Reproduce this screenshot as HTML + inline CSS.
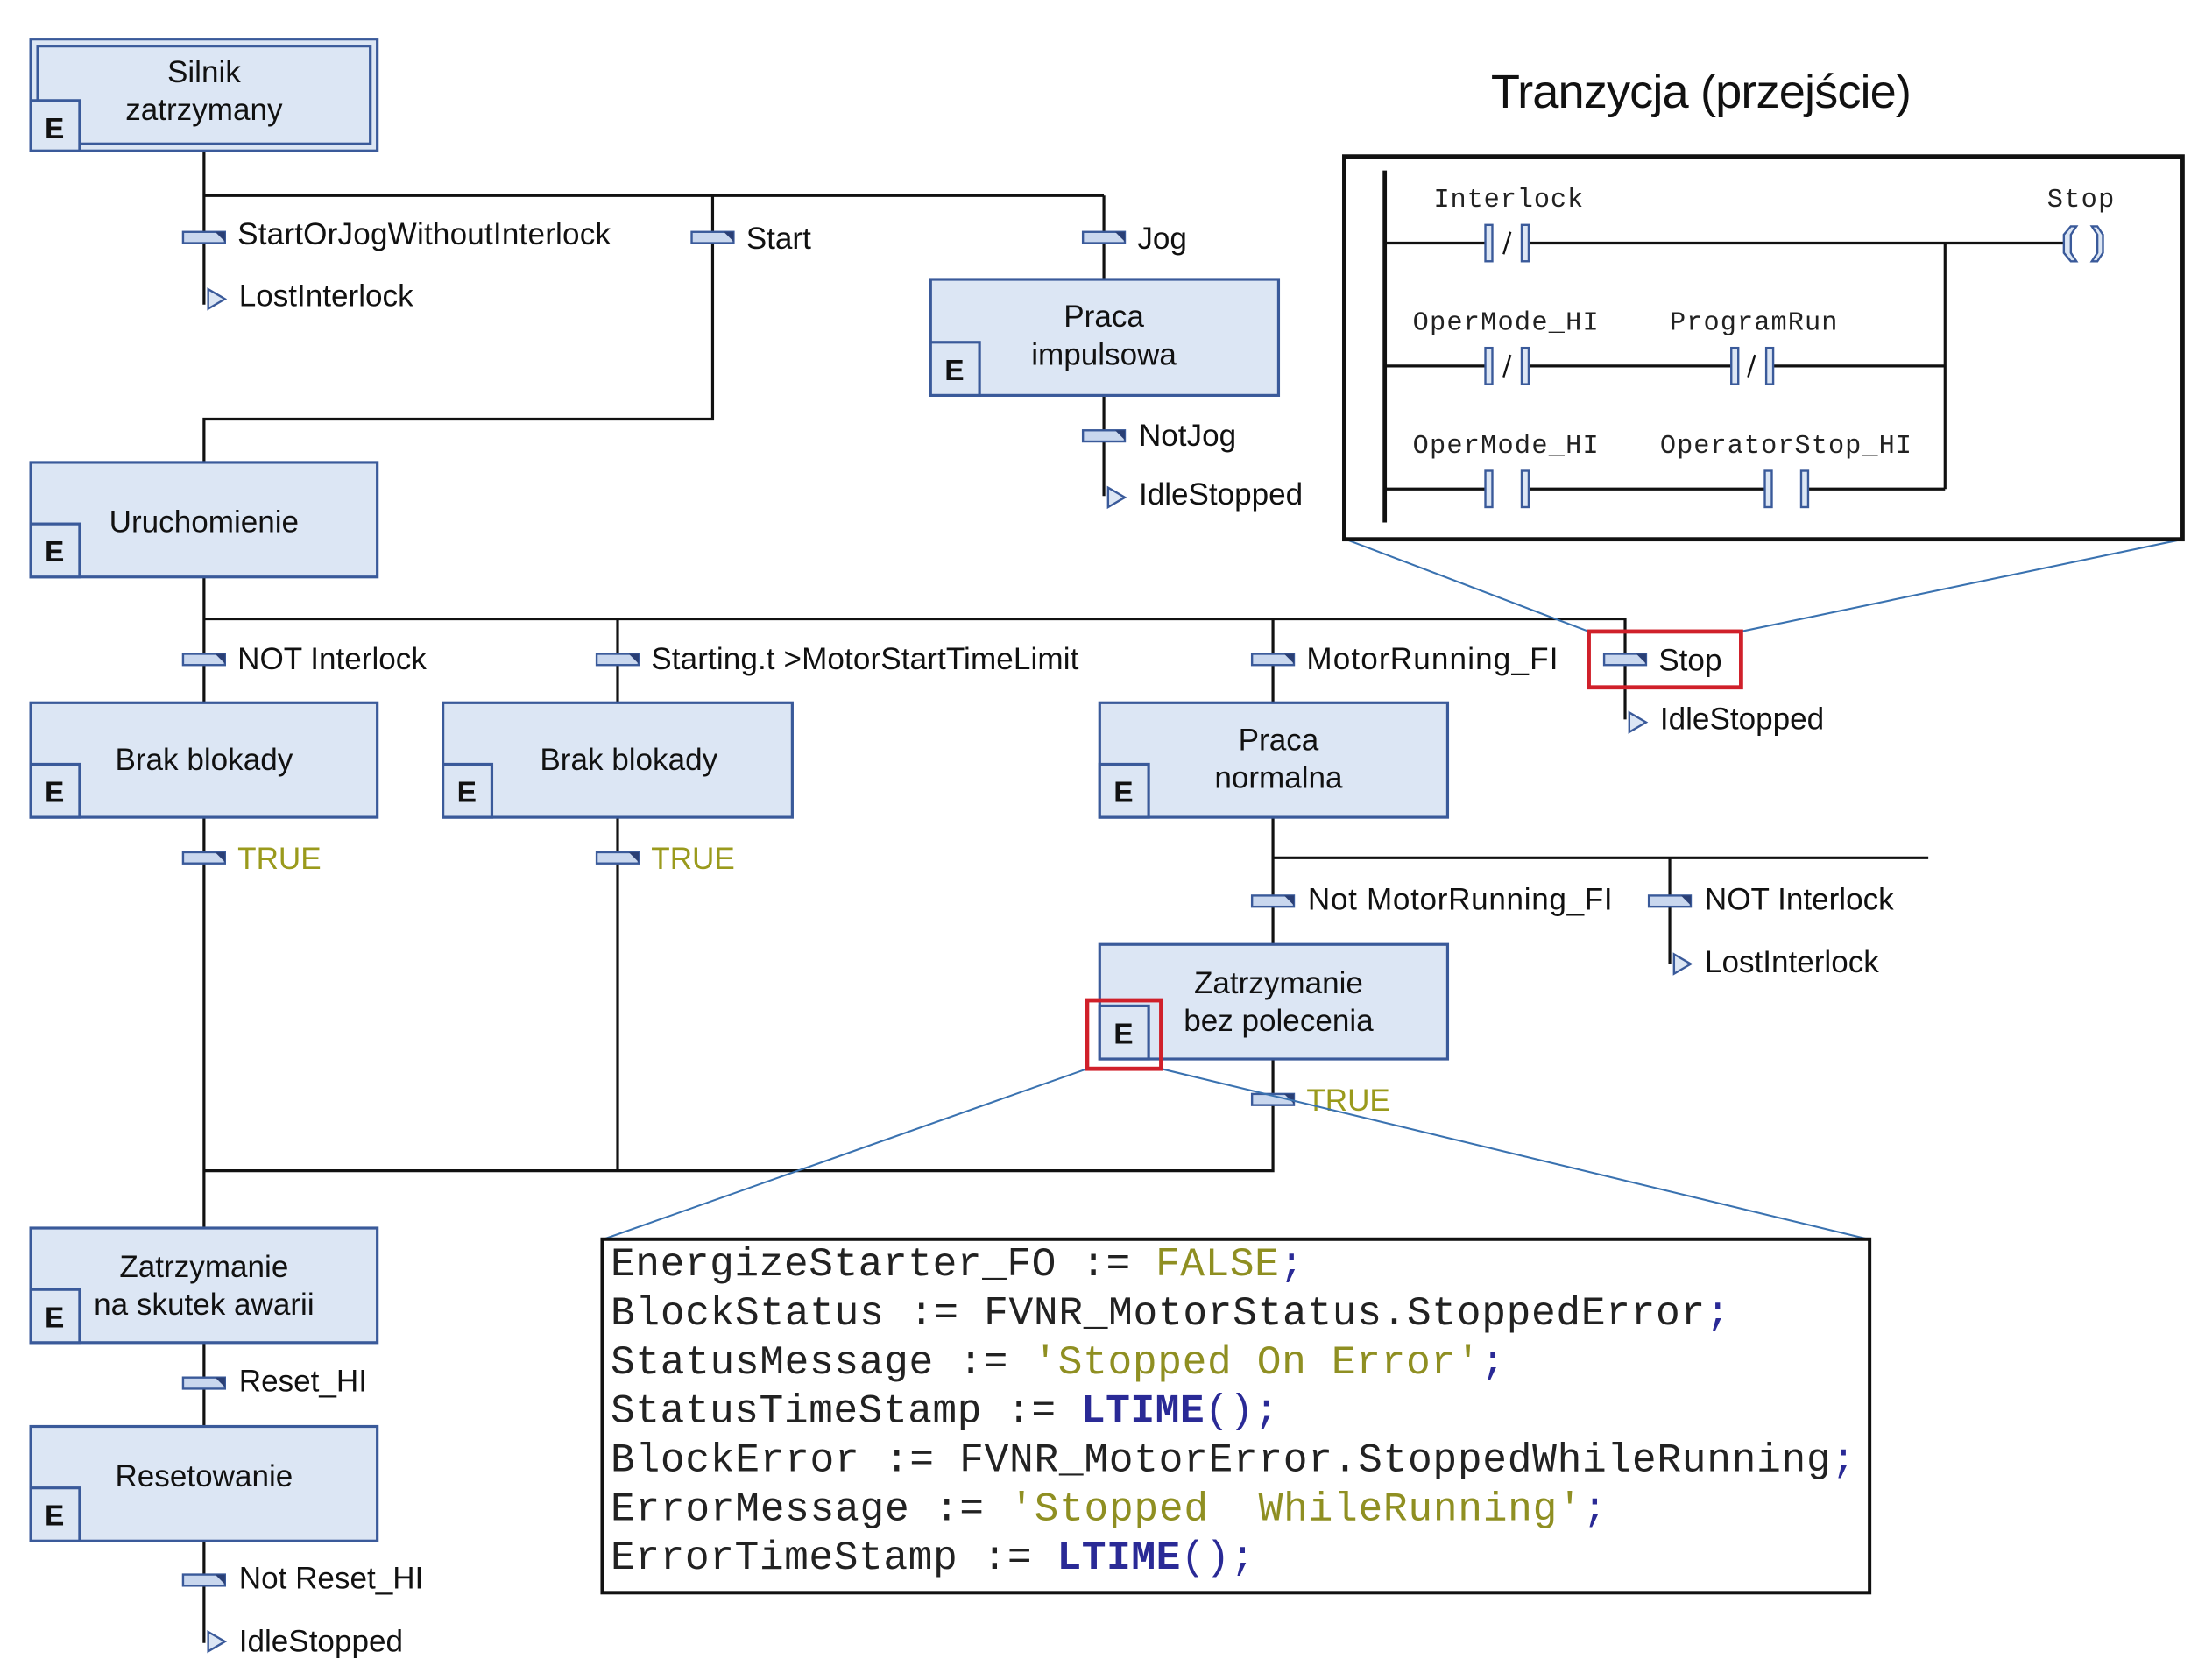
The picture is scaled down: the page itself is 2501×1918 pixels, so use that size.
<!DOCTYPE html>
<html><head><meta charset="utf-8"><style>
html,body{margin:0;padding:0;background:#fff;}
svg{display:block;}
.l{font-family:"Liberation Sans",sans-serif;font-size:22px;fill:#111;}
.b{font-family:"Liberation Sans",sans-serif;font-size:22px;fill:#111;text-anchor:middle;}
.e{font-family:"Liberation Sans",sans-serif;font-size:21px;font-weight:bold;fill:#111;text-anchor:middle;}
.t{font-family:"Liberation Sans",sans-serif;font-size:22px;fill:#9a9a1c;}
.m{font-family:"Liberation Mono",monospace;font-size:19px;fill:#222;}
.c{font-family:"Liberation Mono",monospace;font-size:29px;fill:#222;white-space:pre;}
.o{fill:#8f8f22;} .k{fill:#2a2a96;font-weight:bold;} .p{fill:#2a2a96;}
</style></head><body>
<svg width="2501" height="1918" viewBox="0 0 1568 1202.5" preserveAspectRatio="none" xmlns="http://www.w3.org/2000/svg">
<defs>
<g id="tr"><rect x="-15" y="-4" width="30" height="8" fill="#c9d7ee" stroke="#3a5a9a" stroke-width="1.5"/><path d="M8,-4 L15,-4 L15,3 Z" fill="#2a3f75"/></g>
<g id="jp"><path d="M0,-7 L12,0 L0,7 Z" fill="#dce6f4" stroke="#3a5a9a" stroke-width="1.5"/></g>
</defs>
<g stroke="#111" stroke-width="2" fill="none">
<path d="M146,108 V218 M146,140 H790 M510,140 V300 H146 V331 M790,140 V200 M790,283 V355"/>
<path d="M146,413 V503 M146,443 H1163 V515 M442,443 V503 M911,443 V503"/>
<path d="M146,585 V879 M442,585 V838 M911,585 V676 M911,614 H1380 M1195,614 V690 M911,758 V838 H146"/>
<path d="M146,961 V1021 M146,1103 V1176"/>
</g>
<g fill="#dce6f4" stroke="#3a5a9a" stroke-width="2">
<rect x="22" y="28" width="248" height="80"/><rect x="27" y="33" width="238" height="70" fill="none"/>
<rect x="666" y="200" width="249" height="83"/>
<rect x="22" y="331" width="248" height="82"/>
<rect x="22" y="503" width="248" height="82"/>
<rect x="317" y="503" width="250" height="82"/>
<rect x="787" y="503" width="249" height="82"/>
<rect x="787" y="676" width="249" height="82"/>
<rect x="22" y="879" width="248" height="82"/>
<rect x="22" y="1021" width="248" height="82"/>
<rect x="22" y="72" width="35" height="36"/>
<rect x="666" y="245" width="35" height="38"/>
<rect x="22" y="375" width="35" height="38"/>
<rect x="22" y="547" width="35" height="38"/>
<rect x="317" y="547" width="35" height="38"/>
<rect x="787" y="547" width="35" height="38"/>
<rect x="787" y="720" width="35" height="38"/>
<rect x="22" y="923" width="35" height="38"/>
<rect x="22" y="1065" width="35" height="38"/>
</g>
<g>
<text class="e" x="39" y="99">E</text><text class="e" x="683" y="272">E</text><text class="e" x="39" y="402">E</text>
<text class="e" x="39" y="574">E</text><text class="e" x="334" y="574">E</text><text class="e" x="804" y="574">E</text>
<text class="e" x="804" y="747">E</text><text class="e" x="39" y="950">E</text><text class="e" x="39" y="1092">E</text>
</g>
<g>
<text class="b" x="146" y="59">Silnik</text><text class="b" x="146" y="86">zatrzymany</text>
<text class="b" x="790" y="234">Praca</text><text class="b" x="790" y="261">impulsowa</text>
<text class="b" x="146" y="381">Uruchomienie</text>
<text class="b" x="146" y="551">Brak blokady</text>
<text class="b" x="450" y="551">Brak blokady</text>
<text class="b" x="915" y="537">Praca</text><text class="b" x="915" y="564">normalna</text>
<text class="b" x="915" y="711">Zatrzymanie</text><text class="b" x="915" y="738">bez polecenia</text>
<text class="b" x="146" y="914">Zatrzymanie</text><text class="b" x="146" y="941">na skutek awarii</text>
<text class="b" x="146" y="1064">Resetowanie</text>
</g>
<use href="#tr" x="146" y="170"/><use href="#tr" x="510" y="170"/><use href="#tr" x="790" y="170"/>
<use href="#tr" x="790" y="312"/><use href="#tr" x="146" y="472"/><use href="#tr" x="442" y="472"/>
<use href="#tr" x="911" y="472"/><use href="#tr" x="1163" y="472"/><use href="#tr" x="146" y="614"/>
<use href="#tr" x="442" y="614"/><use href="#tr" x="911" y="645"/><use href="#tr" x="1195" y="645"/>
<use href="#tr" x="911" y="787"/><use href="#tr" x="146" y="990"/><use href="#tr" x="146" y="1131"/>
<use href="#jp" x="149" y="214"/><use href="#jp" x="793" y="356"/><use href="#jp" x="1166" y="517"/>
<use href="#jp" x="1198" y="690"/><use href="#jp" x="149" y="1175"/>
<g>
<text class="l" x="170" y="175" textLength="267">StartOrJogWithoutInterlock</text>
<text class="l" x="171" y="219">LostInterlock</text>
<text class="l" x="534" y="178">Start</text>
<text class="l" x="814" y="178">Jog</text>
<text class="l" x="815" y="319">NotJog</text>
<text class="l" x="815" y="361">IdleStopped</text>
<text class="l" x="170" y="479">NOT Interlock</text>
<text class="l" x="466" y="479" textLength="306">Starting.t &gt;MotorStartTimeLimit</text>
<text class="l" x="935" y="479" textLength="180">MotorRunning_FI</text>
<text class="l" x="1187" y="480">Stop</text>
<text class="l" x="1188" y="522">IdleStopped</text>
<text class="t" x="170" y="622">TRUE</text>
<text class="t" x="466" y="622">TRUE</text>
<text class="l" x="936" y="651" textLength="218">Not MotorRunning_FI</text>
<text class="l" x="1220" y="651">NOT Interlock</text>
<text class="l" x="1220" y="696">LostInterlock</text>
<text class="t" x="935" y="795">TRUE</text>
<text class="l" x="171" y="996">Reset_HI</text>
<text class="l" x="171" y="1137">Not Reset_HI</text>
<text class="l" x="171" y="1182">IdleStopped</text>
</g>
<g stroke="#3a72b0" stroke-width="1.3">
<line x1="963" y1="386" x2="1137" y2="452"/><line x1="1562" y1="386" x2="1246" y2="452"/>
<line x1="778" y1="765" x2="432" y2="887"/><line x1="831" y1="765" x2="1337" y2="887"/>
</g>
<g fill="none" stroke="#d0202a" stroke-width="3">
<rect x="1137" y="452" width="109" height="40"/><rect x="778" y="716" width="53" height="49"/>
</g>
<text x="1067" y="77" style="font-family:'Liberation Sans',sans-serif;font-size:34px;fill:#111" textLength="301">Tranzycja (przejście)</text>
<rect x="962" y="112" width="600" height="274" fill="#fff" stroke="#111" stroke-width="3"/>
<g stroke="#111" stroke-width="2" fill="none">
<line x1="991" y1="122" x2="991" y2="374" stroke-width="3"/>
<path d="M991,174 H1066 M1091,174 H1478 M991,262 H1066 M1091,262 H1242 M1266,262 H1392 M991,350 H1066 M1091,350 H1266 M1292,350 H1392 M1392,174 V350"/>
</g>
<g fill="#dce6f4" stroke="#3a5a9a" stroke-width="1.5">
<rect x="1063" y="161" width="5" height="26"/><rect x="1089" y="161" width="5" height="26"/>
<rect x="1063" y="249" width="5" height="26"/><rect x="1089" y="249" width="5" height="26"/>
<rect x="1239" y="249" width="5" height="26"/><rect x="1264" y="249" width="5" height="26"/>
<rect x="1063" y="337" width="5" height="26"/><rect x="1089" y="337" width="5" height="26"/>
<rect x="1263" y="337" width="5" height="26"/><rect x="1289" y="337" width="5" height="26"/>
<path d="M1482,162 L1477,168 V181 L1482,187 L1486,187 L1482,181 V168 L1486,162 Z"/>
<path d="M1497,162 L1501,168 V181 L1497,187 L1501,187 L1505,181 V168 L1501,162 Z"/>
</g>
<g stroke="#111" stroke-width="1.5"><line x1="1076" y1="182" x2="1081" y2="166"/><line x1="1076" y1="270" x2="1081" y2="254"/><line x1="1251" y1="270" x2="1256" y2="254"/></g>
<text class="m" x="1026" y="148" textLength="107">Interlock</text>
<text class="m" x="1465" y="148" textLength="48">Stop</text>
<text class="m" x="1011" y="236" textLength="133">OperMode_HI</text>
<text class="m" x="1195" y="236" textLength="120">ProgramRun</text>
<text class="m" x="1011" y="324" textLength="133">OperMode_HI</text>
<text class="m" x="1188" y="324" textLength="180">OperatorStop_HI</text>
<rect x="431" y="887" width="907" height="253" fill="#fff" stroke="#111" stroke-width="2.5"/>
<text class="c" x="437" y="913" textLength="496">EnergizeStarter_FO := <tspan class="o">FALSE</tspan><tspan class="p">;</tspan></text>
<text class="c" x="437" y="948" textLength="801">BlockStatus := FVNR_MotorStatus.StoppedError<tspan class="p">;</tspan></text>
<text class="c" x="437" y="983" textLength="640">StatusMessage := <tspan class="o">'Stopped On Error'</tspan><tspan class="p">;</tspan></text>
<text class="c" x="437" y="1018" textLength="478">StatusTimeStamp := <tspan class="k">LTIME</tspan><tspan class="p">();</tspan></text>
<text class="c" x="437" y="1053" textLength="891">BlockError := FVNR_MotorError.StoppedWhileRunning<tspan class="p">;</tspan></text>
<text class="c" x="437" y="1088" textLength="713">ErrorMessage := <tspan class="o">'Stopped&#160; WhileRunning'</tspan><tspan class="p">;</tspan></text>
<text class="c" x="437" y="1123" textLength="461">ErrorTimeStamp := <tspan class="k">LTIME</tspan><tspan class="p">();</tspan></text>
</svg>
</body></html>
